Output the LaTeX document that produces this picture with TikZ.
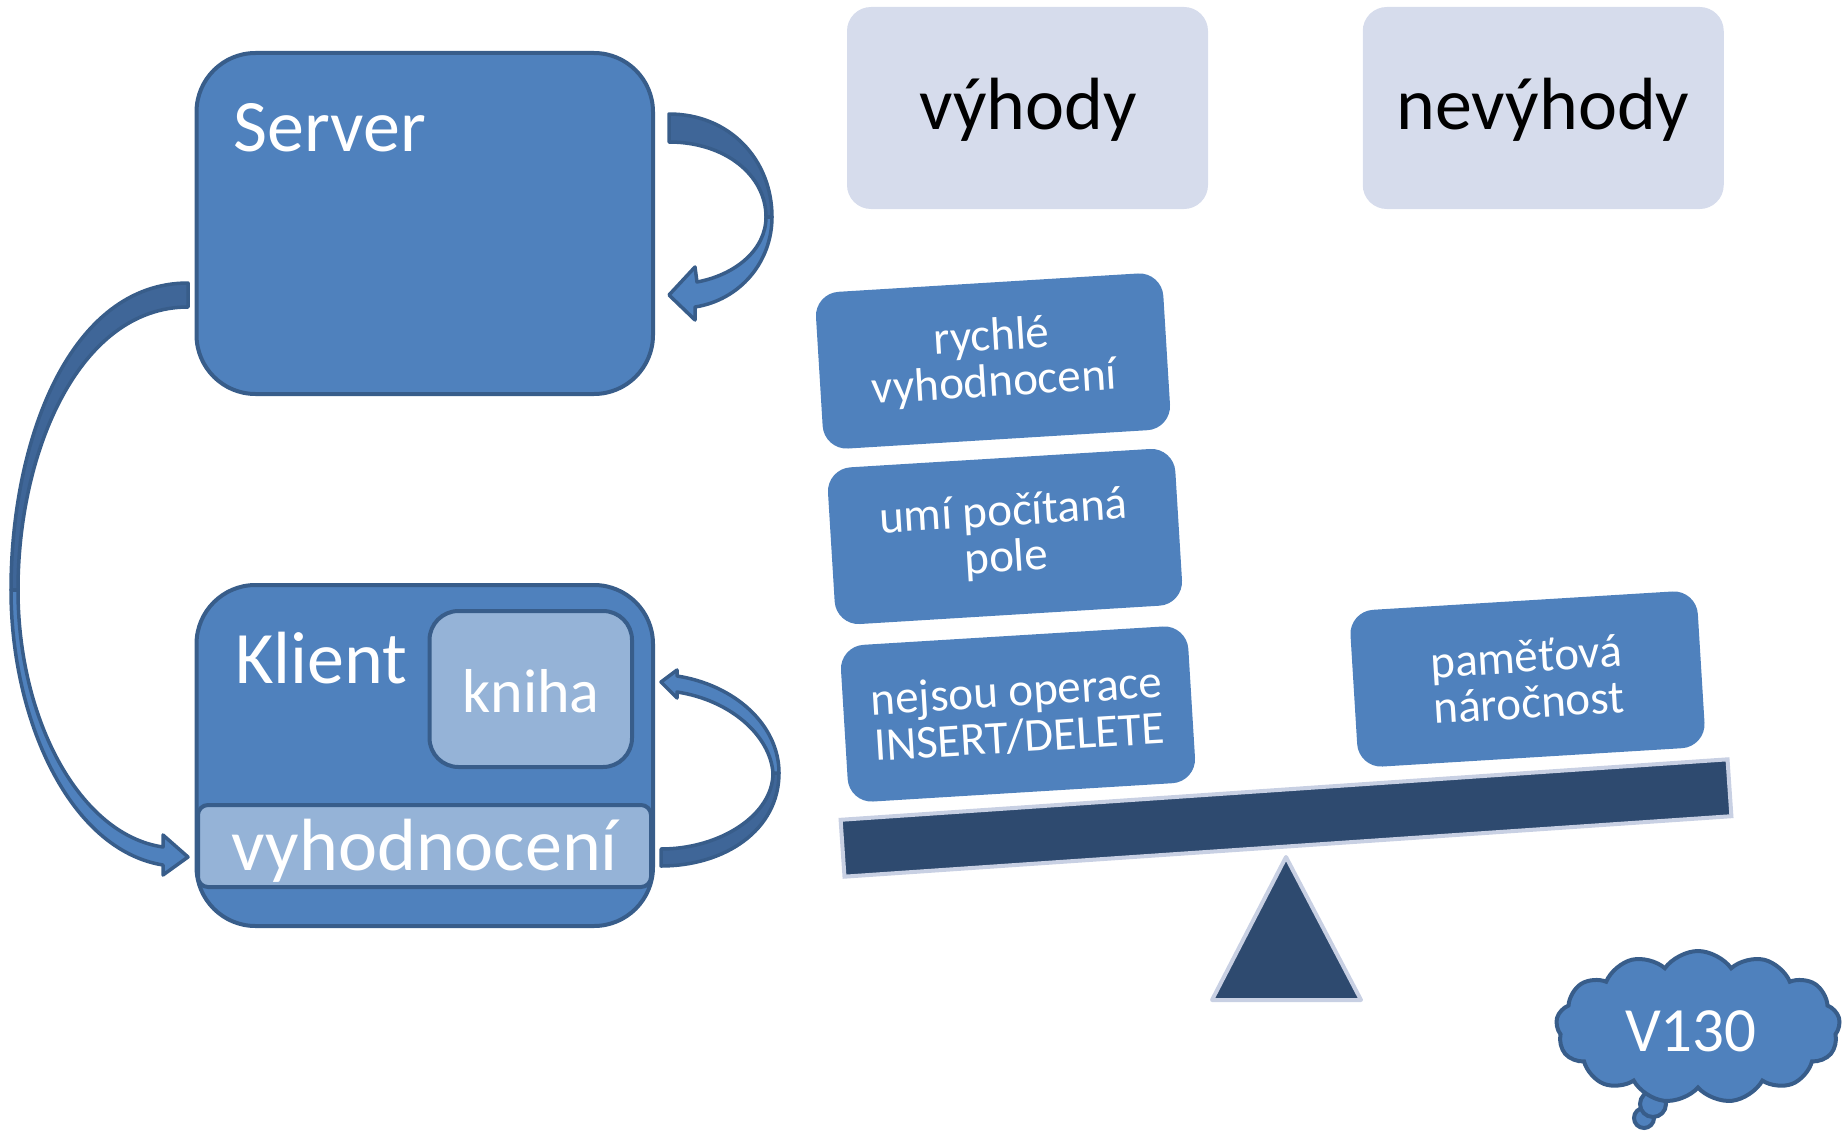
\documentclass[tikz,border=0pt]{standalone}
\usepackage{fontspec}
\setmainfont{Carlito}
\usetikzlibrary{shapes.symbols}
\definecolor{bfill}{HTML}{4F81BD}
\definecolor{bline}{HTML}{385D8A}
\definecolor{bdark}{HTML}{3F6698}
\definecolor{blight}{HTML}{95B3D7}
\definecolor{topfill}{HTML}{D6DCEC}
\definecolor{beamfill}{HTML}{2E4A6F}
\definecolor{beamline}{HTML}{C8D0E3}
\begin{document}
\begin{tikzpicture}[x=1pt,y=-1pt,
  bigbox/.style={draw=bline, line width=4pt, fill=bfill, rounded corners=59pt, inner sep=0pt},
  lightbox/.style={draw=bline, line width=4pt, fill=blight, inner sep=0pt},
  topbox/.style={fill=topfill, rounded corners=24pt, minimum width=361pt, minimum height=202pt, inner sep=0pt},
  tbox/.style={fill=bfill, rounded corners=24pt, minimum width=348pt, minimum height=157pt, rotate=3.5,
     align=center, text=white, font=\fontsize{47}{46}\selectfont, inner sep=0pt},
  bigtxt/.style={text=white, inner sep=0pt, font=\fontsize{74}{80}\selectfont},
  toptxt/.style={text=black, inner sep=0pt, font=\fontsize{74}{80}\selectfont, anchor=base},
  arrline/.style={draw=bline, line width=3.5pt, line join=round},
  beamst/.style={fill=beamfill, draw=beamline, line width=4pt, inner sep=0pt},
  cloudst/.style={draw=bline, line width=4pt, fill=bfill}]
\useasboundingbox (0,0) rectangle (1845,1132);

% ---- curved arrows ----
% big left arrow (server -> klient)
\draw[arrline, fill=bdark] (188,283) .. controls (70,283) and (11,440) .. (11,590)
  -- (18,590) .. controls (18,450) and (80,307) .. (188,307) -- cycle;
\draw[arrline, fill=bfill] (11,590) .. controls (11,720) and (70,850) .. (163,865)
  -- (163,875) -- (188,857) -- (163,835) -- (163,847)
  .. controls (80,835) and (18,720) .. (18,590) -- cycle;
% server self loop
\draw[arrline, fill=bdark] (669,114) .. controls (730,114) and (772,160) .. (772,217)
  -- (766,217) .. controls (766,175) and (725,142) .. (669,142) -- cycle;
\draw[arrline, fill=bfill] (772,217) .. controls (772,262) and (740,300) .. (695,307)
  -- (695,320) -- (669,295) -- (695,267) -- (697,282)
  .. controls (735,275) and (766,250) .. (766,217) -- cycle;
% klient self loop
\draw[arrline, fill=bdark] (779,773) .. controls (779,830) and (725,866) .. (661,866)
  -- (661,849) .. controls (720,849) and (773,815) .. (773,773) -- cycle;
\draw[arrline, fill=bfill] (773,773) .. controls (770,735) and (730,700) .. (677,692)
  -- (677,698) -- (661,682) -- (677,670) -- (677,676)
  .. controls (735,685) and (779,725) .. (779,773) -- cycle;

% ---- server / klient ----
\node[bigbox, minimum width=456.5pt, minimum height=341pt] (server) at (424.75,223.5) {};
\node[bigtxt, anchor=base west] (servert) at (233,151) {Server};
\node[bigbox, minimum width=456.5pt, minimum height=341pt] (klient) at (424.75,755.5) {};
\node[bigtxt, anchor=base west] (klientt) at (235,683) {Klient};
\node[lightbox, rounded corners=29pt, minimum width=202.5pt, minimum height=156pt] (kniha) at (530.75,689) {};
\node[bigtxt, anchor=base, font=\fontsize{62}{70}\selectfont] (knihat) at (531,712) {kniha};
\node[lightbox, rounded corners=10pt, minimum width=453pt, minimum height=82pt] (vyh) at (424.5,846) {};
\node[bigtxt, anchor=base] (vyht) at (425,870) {vyhodnocení};

% ---- top boxes ----
\node[topbox] (vyhody) at (1027.5,108) {};
\node[toptxt] (vyhodyt) at (1028,129.5) {výhody};
\node[topbox] (nevyhody) at (1543.25,108) {};
\node[toptxt] (nevyhodyt) at (1543,129.5) {nevýhody};

% ---- seesaw ----
\draw[fill=beamfill, draw=beamline, line width=4pt, line join=round] (1286,857) -- (1361,1000) -- (1212,1000) -- cycle;
\node[beamst, minimum width=889pt, minimum height=57pt, rotate=3.9] (beam) at (1286,818) {};

% ---- tilted boxes ----
\node[tbox] (b1) at (993,361) {rychlé\\vyhodnocení};
\node[tbox] (b2) at (1005,536.5) {umí počítaná\\pole};
\node[tbox] (b3) at (1018,714) {nejsou operace\\INSERT/DELETE};
\node[tbox] (b4) at (1527.5,679) {paměťová\\náročnost};

% ---- cloud ----
\draw[cloudst] (1644,1118) circle[radius=10pt];
\draw[cloudst] (1653,1104) circle[radius=13pt];
\node[cloud, cloud puffs=13, cloud puff arc=110, aspect=2, cloudst, minimum width=284pt, minimum height=152pt, inner sep=0pt] (cloud) at (1698,1027) {};
\node[bigtxt, anchor=base, font=\fontsize{63}{70}\selectfont] (cloudt) at (1691,1051) {V130};
\end{tikzpicture}
\end{document}
